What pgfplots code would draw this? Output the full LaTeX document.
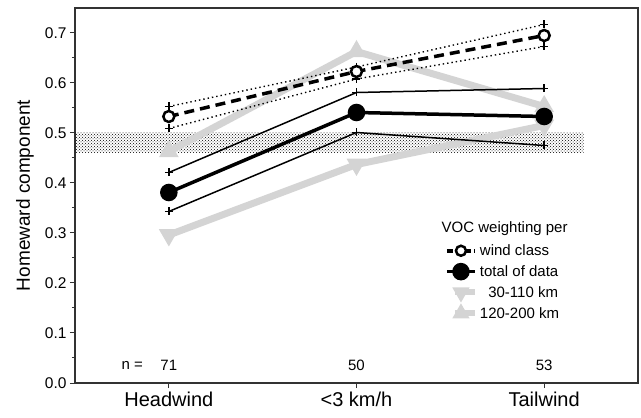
\documentclass[border=0pt]{standalone}
\usepackage{fontspec}
\setmainfont{Liberation Sans}
\usepackage{pgfplots}
\pgfplotsset{compat=1.18}
\usetikzlibrary{patterns}
\definecolor{lgray}{RGB}{212,212,212}
\definecolor{axgray}{RGB}{50,50,50}
\begin{document}
\begin{tikzpicture}
\useasboundingbox (-75pt,-35pt) rectangle (566pt,383pt);
\begin{axis}[
  scale only axis, width=563pt, height=375pt,
  at={(0pt,0pt)}, anchor=south west,
  xmin=-0.5, xmax=2.5, ymin=0, ymax=0.75,
  xtick={0,1,2}, xticklabels={Headwind,<3 km/h,Tailwind},
  ytick={0,0.1,0.2,0.3,0.4,0.5,0.6,0.7},
  minor ytick={0.05,0.15,0.25,0.35,0.45,0.55,0.65},
  tick align=outside, tick pos=left,
  major tick length=5pt, minor tick length=3pt,
  every tick/.style={axgray, line width=1pt},
  axis line style={axgray, line width=1.3pt},
  yticklabel style={font=\fontsize{15.5}{18}\selectfont, /pgf/number format/fixed, /pgf/number format/fixed zerofill, /pgf/number format/precision=1, /pgf/number format/assume math mode=true},
  xticklabel style={font=\fontsize{20}{24}\selectfont},
  ylabel={Homeward component},
  every axis y label/.style={at={(axis description cs:-0.089,0.5)}, rotate=90, anchor=center, font=\fontsize{19}{22}\selectfont},
  legend style={at={(rel axis cs:0.655,0.375)}, anchor=north west, draw=none, fill=none,
     font=\fontsize{15}{18}\selectfont, row sep=4.5pt, inner sep=0pt},
  legend cell align=left,
  legend image code/.code={
    \draw[mark repeat=2,mark phase=2,#1] plot coordinates {(0pt,0pt) (14pt,0pt) (28pt,0pt)};
  },
]
% legend
\addlegendimage{black, line width=3.5pt, dash pattern=on 6pt off 3pt, mark=*, mark size=5pt, mark options={solid, fill=white, draw=black, line width=2.5pt}}
\addlegendentry{wind class}
\addlegendimage{black, line width=3.5pt, mark=*, mark size=7pt}
\addlegendentry{total of data}
\addlegendimage{lgray, line width=6pt, mark=triangle*, mark size=4pt, mark options={rotate=180}, shorten <=8pt}
\addlegendentry{\ \ 30-110 km}
\addlegendimage{lgray, line width=6pt, mark=triangle*, mark size=4pt, shorten <=8pt}
\addlegendentry{120-200 km}

% hatched band
\addplot[forget plot, draw=none, pattern=crosshatch dots, pattern color=black]
  coordinates {(-0.5,0.461) (2.21,0.461) (2.21,0.500) (-0.5,0.500)} -- cycle;

% grey series
\addplot[forget plot, lgray, line width=7pt, mark=triangle*, mark size=4.5pt, mark options={rotate=180}]
  coordinates {(0,0.296) (1,0.437) (2,0.515)};
\addplot[forget plot, lgray, line width=7pt, mark=triangle*, mark size=4.5pt]
  coordinates {(0,0.463) (1,0.663) (2,0.553)};

% dotted bounds
\addplot[forget plot, black, line width=1.4pt, dash pattern=on 1.4pt off 3pt, mark=+, mark size=4pt, mark options={solid, line width=1.5pt}]
  coordinates {(0,0.553) (1,0.632) (2,0.717)};
\addplot[forget plot, black, line width=1.4pt, dash pattern=on 1.4pt off 3pt, mark=+, mark size=4pt, mark options={solid, line width=1.5pt}]
  coordinates {(0,0.509) (1,0.608) (2,0.673)};

% thin bounds
\addplot[forget plot, black, line width=1.5pt, mark=+, mark size=4pt, mark options={line width=1.5pt}]
  coordinates {(0,0.421) (1,0.581) (2,0.589)};
\addplot[forget plot, black, line width=1.5pt, mark=+, mark size=4pt, mark options={line width=1.5pt}]
  coordinates {(0,0.343) (1,0.501) (2,0.475)};

% total of data
\addplot[forget plot, black, line width=3.5pt, mark=*, mark size=7pt]
  coordinates {(0,0.381) (1,0.541) (2,0.533)};

% wind class
\addplot[forget plot, black, line width=3.5pt, dash pattern=on 10pt off 6pt, mark=*, mark size=5.5pt, mark options={solid, fill=white, draw=black, line width=2.5pt}]
  coordinates {(0,0.533) (1,0.623) (2,0.695)};

% text
\node[anchor=west, font=\fontsize{15}{18}\selectfont] at (rel axis cs:0.645,0.413) {VOC weighting per};
\node[anchor=east, font=\fontsize{15}{18}\selectfont] at (axis cs:-0.12,0.036) {n =};
\node[font=\fontsize{15}{18}\selectfont] at (axis cs:0,0.036) {71};
\node[font=\fontsize{15}{18}\selectfont] at (axis cs:1,0.036) {50};
\node[font=\fontsize{15}{18}\selectfont] at (axis cs:2,0.036) {53};
\end{axis}
\end{tikzpicture}
\end{document}
